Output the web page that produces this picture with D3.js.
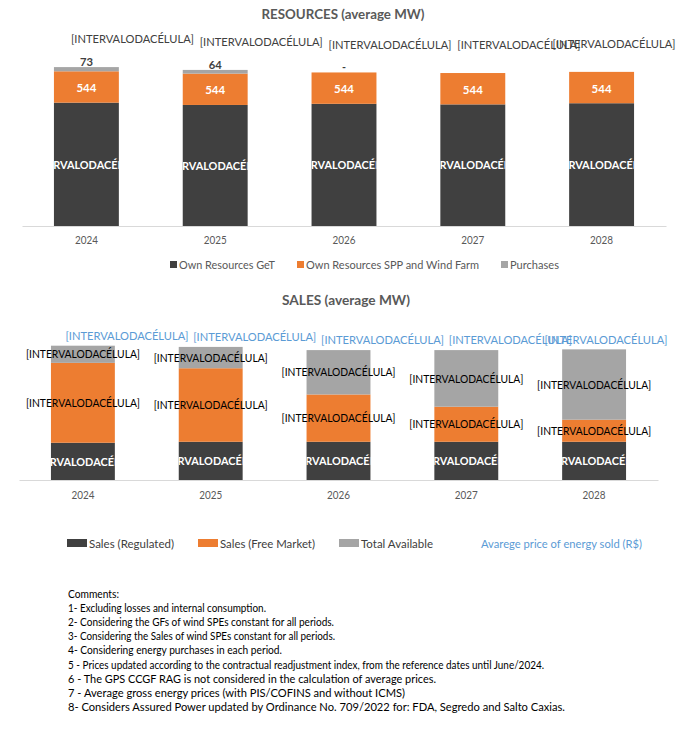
<!DOCTYPE html>
<html><head><meta charset="utf-8">
<script src="https://cdn.jsdelivr.net/npm/d3@7"></script>
<style>
body{margin:0;background:#fff}
svg{display:block}
text{font-family:Lato,'Open Sans',sans-serif}
</style></head>
<body><svg id="c" width="688" height="730"></svg>
<script>
// ---------- data ----------
const years = ["2024","2025","2026","2027","2028"];
// Resources (average MW)
const ownResourcesGeT = [2140, 2100, 2120, 2110, 2130];
const ownResourcesSPP = [544, 544, 544, 544, 544];
const purchases = [73, 64, 0, 0, 0];
const purchaseLabels = ["73", "64", "-", "", ""];
// Sales (average MW)
const salesRegulated = [760, 780, 780, 780, 780];
const salesFreeMarket = [1630, 1500, 965, 715, 450];
const totalAvailable = [350, 435, 905, 1155, 1435];
const cellLabel = "[INTERVALODACÉLULA]";
const resourcesLegend = ["Own Resources GeT", "Own Resources SPP and Wind Farm", "Purchases"];
const salesLegend = ["Sales (Regulated)", "Sales (Free Market)", "Total Available", "Avarege price of energy sold (R$)"];
const comments = [
  "Comments:",
  "1- Excluding losses and internal consumption.",
  "2- Considering the GFs of wind SPEs constant for all periods.",
  "3- Considering the Sales of wind SPEs constant for all periods.",
  "4- Considering energy purchases in each period.",
  "5 - Prices updated according to the contractual readjustment index, from the reference dates until June/2024.",
  "6 - The GPS CCGF RAG is not considered in the calculation of average prices.",
  "7 - Average gross energy prices (with PIS/COFINS and without ICMS)",
  "8- Considers Assured Power updated by Ordinance No. 709/2022 for: FDA, Segredo  and Salto Caxias."
];
const commentWidths = [51, 198, 266, 267, 214, 476, 368, 337, 497];

// ---------- style ----------
const C_DARK = "#404040", C_ORANGE = "#ED7D31", C_GREY = "#A5A5A5", C_BLUE = "#5B9BD5";
const svg = d3.select("#c");

function label(g, x, y, s, o = {}) {
  const t = g.append("text")
    .attr("x", x).attr("y", y).attr("dy", "0.35em")
    .attr("text-anchor", o.anchor || "middle")
    .attr("font-size", o.size || 11)
    .attr("font-weight", o.bold ? "bold" : "normal")
    .attr("fill", o.fill || "#000")
    .text(s);
  if (o.w) t.attr("textLength", o.w).attr("lengthAdjust", "spacingAndGlyphs");
  if (o.clip) t.attr("clip-path", o.clip);
  return t;
}

// ================= RESOURCES =================
const gTop = svg.append("g");
const xTop = d3.scaleBand().domain(years).range([22, 666]).paddingInner(0.496).paddingOuter(0.248);
const yTop = d3.scaleLinear().domain([0, 3000]).range([226, 226 - 3000 / 17.35]);
const topRows = years.map((y, i) => ({year: y, get: ownResourcesGeT[i], spp: ownResourcesSPP[i], pur: purchases[i]}));
const topStack = d3.stack().keys(["get", "spp", "pur"])(topRows);
const topColors = [C_DARK, C_ORANGE, C_GREY];

label(gTop, 343, 14, "RESOURCES (average MW)", {size: 13, bold: true, fill: "#595959", w: 163});

topStack.forEach((layer, li) => {
  gTop.selectAll(null).data(layer).enter().append("rect")
    .attr("x", d => xTop(d.data.year))
    .attr("width", xTop.bandwidth())
    .attr("y", d => yTop(d[1]))
    .attr("height", d => yTop(d[0]) - yTop(d[1]))
    .attr("fill", topColors[li]);
});

// axis
const axTop = gTop.append("g").attr("transform", "translate(0,226)").call(d3.axisBottom(xTop).tickSize(0).tickPadding(0));
axTop.select(".domain").attr("stroke", "#D9D9D9");
axTop.selectAll("text").remove();
years.forEach(y => label(gTop, xTop(y) + xTop.bandwidth() / 2, 240, y, {size: 12, fill: "#595959", w: 23}));

// clip paths for dark labels
const defs = svg.append("defs");
topStack[0].forEach((d, i) => {
  defs.append("clipPath").attr("id", "ct" + i).append("rect")
    .attr("x", xTop(d.data.year)).attr("width", xTop.bandwidth())
    .attr("y", yTop(d[1])).attr("height", yTop(d[0]) - yTop(d[1]));
});
topStack[0].forEach((d, i) => {
  label(gTop, xTop(d.data.year) + xTop.bandwidth() / 2, (yTop(d[0]) + yTop(d[1])) / 2, cellLabel,
    {size: 12, bold: true, fill: "#fff", w: 122, clip: "url(#ct" + i + ")"});
});
topStack[1].forEach(d => {
  label(gTop, xTop(d.data.year) + xTop.bandwidth() / 2, (yTop(d[0]) + yTop(d[1])) / 2 + 1, String(d.data.spp),
    {size: 11.5, bold: true, fill: "#fff", w: 20});
});
topStack[2].forEach((d, i) => {
  if (purchaseLabels[i]) label(gTop, xTop(d.data.year) + xTop.bandwidth() / 2, yTop(d[1]) - 5, purchaseLabels[i],
    {size: 11.5, bold: true, fill: C_DARK, w: purchaseLabels[i].length > 1 ? 13 : 4});
});
// total labels (hidden series)
topStack[2].forEach(d => {
  let cx = xTop(d.data.year) + xTop.bandwidth() / 2 + 46;
  cx = Math.min(cx, 676 - 62);
  label(gTop, cx, yTop(d[1]) - 28, cellLabel, {size: 12, fill: C_DARK, w: 123});
});

// legend
let lx = 170;
resourcesLegend.forEach((s, i) => {
  const w = [96, 173, 49][i];
  gTop.append("rect").attr("x", lx).attr("y", 261).attr("width", 7).attr("height", 7).attr("fill", topColors[i]);
  label(gTop, lx + 9, 264.5, s, {anchor: "start", size: 12, fill: "#595959", w});
  lx += 9 + w + 22;
});

// ================= SALES =================
const gBot = svg.append("g");
const xBot = d3.scaleBand().domain(years).range([19, 658]).paddingInner(0.5).paddingOuter(0.25);
const yBot = d3.scaleLinear().domain([0, 3000]).range([480, 480 - 3000 / 20.4]);
const botRows = years.map((y, i) => ({year: y, reg: salesRegulated[i], free: salesFreeMarket[i], avail: totalAvailable[i]}));
const botStack = d3.stack().keys(["reg", "free", "avail"])(botRows);
const botColors = [C_DARK, C_ORANGE, C_GREY];

label(gBot, 346, 300, "SALES (average MW)", {size: 13, bold: true, fill: "#595959", w: 128});

botStack.forEach((layer, li) => {
  gBot.selectAll(null).data(layer).enter().append("rect")
    .attr("x", d => xBot(d.data.year))
    .attr("width", xBot.bandwidth())
    .attr("y", d => yBot(d[1]))
    .attr("height", d => yBot(d[0]) - yBot(d[1]))
    .attr("fill", botColors[li]);
});
const axBot = gBot.append("g").attr("transform", "translate(0,480)").call(d3.axisBottom(xBot).tickSize(0).tickPadding(0));
axBot.select(".domain").attr("stroke", "#D9D9D9");
axBot.selectAll("text").remove();
years.forEach(y => label(gBot, xBot(y) + xBot.bandwidth() / 2, 495, y, {size: 12, fill: "#595959", w: 23}));

botStack[0].forEach((d, i) => {
  defs.append("clipPath").attr("id", "cb" + i).append("rect")
    .attr("x", xBot(d.data.year)).attr("width", xBot.bandwidth())
    .attr("y", yBot(d[1])).attr("height", yBot(d[0]) - yBot(d[1]));
});
botStack[0].forEach((d, i) => {
  label(gBot, xBot(d.data.year) + xBot.bandwidth() / 2, (yBot(d[0]) + yBot(d[1])) / 2, cellLabel,
    {size: 12, bold: true, fill: "#fff", w: 122, clip: "url(#cb" + i + ")"});
});
[1, 2].forEach(k => {
  botStack[k].forEach(d => {
    label(gBot, xBot(d.data.year) + xBot.bandwidth() / 2, (yBot(d[0]) + yBot(d[1])) / 2, cellLabel,
      {size: 12, fill: "#000", w: 114});
  });
});
// average price labels (hidden line series)
botStack[2].forEach(d => {
  let cx = xBot(d.data.year) + xBot.bandwidth() / 2 + 44;
  cx = Math.min(cx, 668 - 62);
  label(gBot, cx, yBot(d[1]) - 10, cellLabel, {size: 12, fill: C_BLUE, w: 123});
});

// legend
let bx = 67;
salesLegend.forEach((s, i) => {
  const w = [85, 95, 72, 161][i];
  if (i < 3) {
    gBot.append("rect").attr("x", bx).attr("y", 539).attr("width", 20).attr("height", 8).attr("fill", botColors[i]);
    label(gBot, bx + 22, 543.5, s, {anchor: "start", size: 12, fill: "#404040", w});
    bx += 22 + w + 24;
  } else {
    label(gBot, bx + 24, 543.5, s, {anchor: "start", size: 12, fill: C_BLUE, w});
  }
});

// ================= COMMENTS =================
const gCom = svg.append("g");
comments.forEach((s, i) => {
  label(gCom, 68, 594 + i * 14.17, s, {anchor: "start", size: 10.5, fill: "#000", w: commentWidths[i]});
});
</script>
</body></html>
